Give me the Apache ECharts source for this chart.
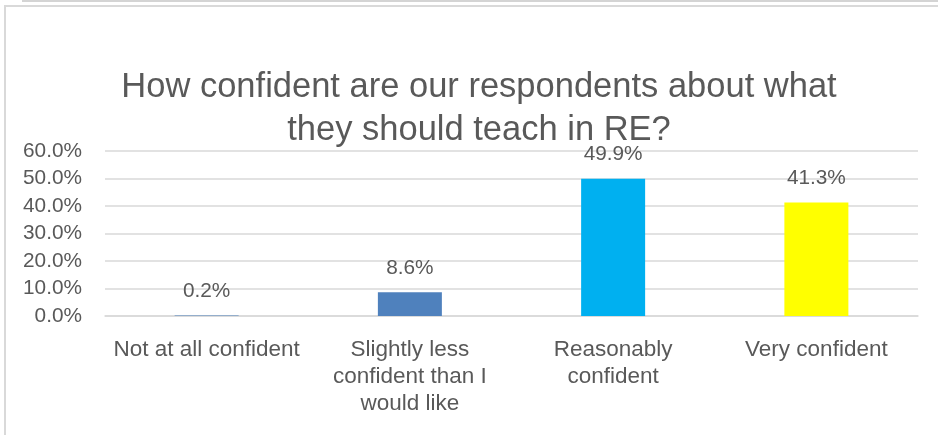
<!DOCTYPE html>
<html>
<head>
<meta charset="utf-8">
<script src="https://cdn.jsdelivr.net/npm/echarts@6/dist/echarts.min.js"></script>
<style>
  html, body { margin: 0; padding: 0; background: #ffffff; }
  #chart { width: 938px; height: 435px; }
</style>
</head>
<body>
<div id="chart"></div>
<script>
// Survey answers: confidence about what to teach in RE
const categories = [
  'Not at all confident',
  'Slightly less\nconfident than I\nwould like',
  'Reasonably\nconfident',
  'Very confident'
];
const shares = [0.2, 8.6, 49.9, 41.3];           // percent of respondents
const barColors = ['#4F81BD', '#4F81BD', '#00B0F0', '#FFFF00'];
const titleLines = ['How confident are our respondents about what', 'they should teach in RE?'];

const textColor = '#595959';
const fontFamily = '"Liberation Sans", Arial, sans-serif';

const chart = echarts.init(document.getElementById('chart'), null, { renderer: 'canvas' });

chart.setOption({
  backgroundColor: '#ffffff',
  animation: false,
  title: {
    text: titleLines.join('\n'),
    left: 474,
    textAlign: 'center',
    top: 61,
    textStyle: {
      color: textColor,
      fontFamily: fontFamily,
      fontWeight: 'normal',
      fontSize: 34.5,
      lineHeight: 43
    }
  },
  grid: { left: 105, right: 20, top: 151, bottom: 119, containLabel: false },
  xAxis: {
    type: 'category',
    data: categories,
    axisLine: { show: true, lineStyle: { color: '#D9D9D9', width: 1.5 } },
    axisTick: { show: false },
    axisLabel: {
      color: textColor,
      fontFamily: fontFamily,
      fontSize: 22.5,
      lineHeight: 27,
      margin: 20,
      interval: 0
    }
  },
  yAxis: {
    type: 'value',
    min: 0,
    max: 60,
    interval: 10,
    axisLine: { show: false },
    axisTick: { show: false },
    splitLine: { lineStyle: { color: '#D9D9D9', width: 1.5 } },
    axisLabel: {
      color: textColor,
      fontFamily: fontFamily,
      fontSize: 20.8,
      margin: 23,
      formatter: v => v.toFixed(1) + '%'
    }
  },
  series: [{
    type: 'bar',
    barWidth: 64,
    data: shares.map((v, i) => ({ value: v, itemStyle: { color: barColors[i] } })),
    label: {
      show: true,
      position: 'top',
      distance: 14,
      color: textColor,
      fontFamily: fontFamily,
      fontSize: 20.8,
      formatter: p => p.value.toFixed(1) + '%'
    }
  }],
  graphic: [
    {
      type: 'line',
      silent: true,
      shape: { x1: 22, y1: 1, x2: 940, y2: 1 },
      style: { stroke: '#D4D4D4', lineWidth: 2 }
    },
    {
      type: 'polyline',
      silent: true,
      shape: { points: [[5, 440], [5, 6], [940, 6]] },
      style: { stroke: '#D9D9D9', lineWidth: 2, fill: null }
    }
  ]
});
</script>
</body>
</html>
